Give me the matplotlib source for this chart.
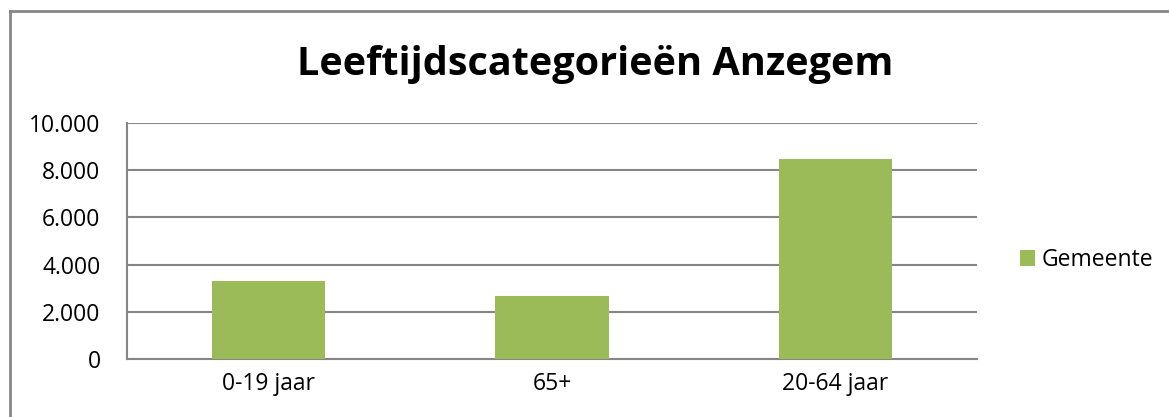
import matplotlib
matplotlib.use("Agg")
import matplotlib.pyplot as plt
from matplotlib.ticker import FuncFormatter
from matplotlib.lines import Line2D

categories = ["0-19 jaar", "65+", "20-64 jaar"]
values = [3300, 2650, 8460]
series_name = "Gemeente"
title = "Leeftijdscategorieën Anzegem"
yticks = [0, 2000, 4000, 6000, 8000, 10000]

plt.rcParams['font.family'] = ['Open Sans', 'DejaVu Sans']

W, H = 1169, 417
fig = plt.figure(figsize=(W/100, H/100), dpi=100)
ax = fig.add_axes([127/W, 1-359/H, 850/W, 236/H])

green = "#9BBB59"
grid = "#868686"
x = range(len(categories))
ax.bar(x, values, width=0.4, color=green, label=series_name, zorder=3)
ax.set_xlim(-0.5, len(categories)-0.5)
ax.set_ylim(0, 10000)
ax.set_yticks(yticks)
ax.yaxis.set_major_formatter(FuncFormatter(lambda v, p: f"{int(v):,}".replace(",", ".")))
ax.set_xticks(list(x))
ax.set_xticklabels(categories)
ax.grid(axis='y', color=grid, linewidth=1.5, zorder=0)
for s in ['top', 'right']:
    ax.spines[s].set_visible(False)
for s in ['left', 'bottom']:
    ax.spines[s].set_color(grid)
    ax.spines[s].set_linewidth(1.5)
ax.tick_params(axis='both', length=0, labelsize=16.5, colors='black')
ax.tick_params(axis='y', pad=19)
ax.tick_params(axis='x', pad=9)

fig.text(595/W, 1-64/H, title, ha='center', va='center', fontsize=28.5, fontweight='bold')

leg = fig.legend(loc='center left', bbox_to_anchor=(999/W, 1-260/H), frameon=False,
                 fontsize=16.5, handlelength=0.65, handleheight=0.65, handletextpad=0.3)

fig.add_artist(Line2D([10/W, 10/W], [0, 1-11/H], transform=fig.transFigure,
                      color=grid, linewidth=2))
fig.add_artist(Line2D([10/W, 1], [1-11/H, 1-11/H], transform=fig.transFigure,
                      color=grid, linewidth=2))

fig.savefig("out.png", dpi=100)
